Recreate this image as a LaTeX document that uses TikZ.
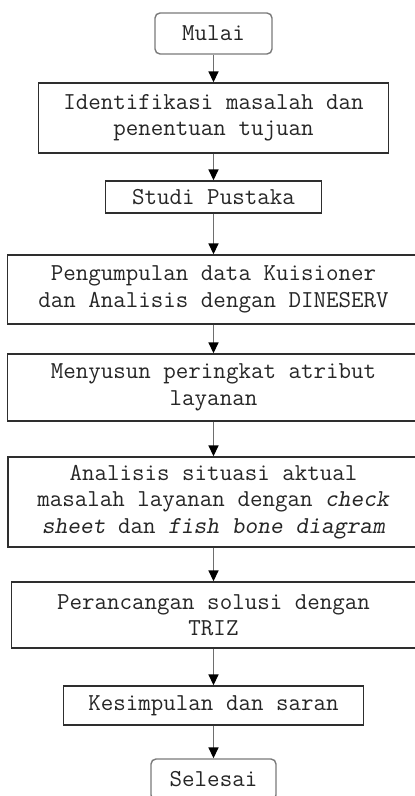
\documentclass[tikz,border=0pt]{standalone}
\usepackage{fontspec}
\usetikzlibrary{arrows.meta}
\definecolor{txt}{HTML}{262626}
\definecolor{edge}{HTML}{2E2E2E}
\definecolor{termedge}{HTML}{7A7A7A}
\definecolor{lineg}{HTML}{6E6E6E}
\begin{document}
\begin{tikzpicture}[x=1pt,y=-1pt,
  stepbox/.style={draw=edge, line width=1.4pt, fill=white, text=txt, align=center,
    inner sep=0pt, font=\ttfamily\fontsize{24.3}{26.5}\selectfont},
  termbox/.style={stepbox, draw=termedge, rounded corners=5pt},
  flow/.style={draw=lineg, line width=1.6pt, -{Triangle[width=10pt,length=11pt,fill=black,color=black]}}
]
\useasboundingbox (0,0) rectangle (415,796);
\clip (0,0) rectangle (415,796);
\node[termbox, minimum width=117, minimum height=41] (n1) at (213.5,33.5) {Mulai};
\node[stepbox, minimum width=350, minimum height=70] (n2) at (213.5,118) {Identifikasi masalah dan\\penentuan tujuan};
\node[stepbox, minimum width=216, minimum height=32] (n3) at (213.5,197) {Studi Pustaka};
\node[stepbox, minimum width=412, minimum height=69] (n4) at (213.5,289.5) {Pengumpulan data Kuisioner\\dan Analisis dengan DINESERV};
\node[stepbox, minimum width=412, minimum height=67] (n5) at (213.5,387.5) {Menyusun peringkat atribut\\layanan};
\node[stepbox, minimum width=411, minimum height=90] (n6) at (213.5,502) {Analisis situasi aktual\\masalah layanan dengan \textsl{check}\\\textsl{sheet} dan \textsl{fish bone diagram}};
\node[stepbox, minimum width=404, minimum height=66] (n7) at (213.5,615) {Perancangan solusi dengan\\TRIZ};
\node[stepbox, minimum width=300, minimum height=39] (n8) at (213.5,705.5) {Kesimpulan dan saran};
\node[termbox, minimum width=125, minimum height=41] (n9) at (213.5,779.5) {Selesai};
\draw[flow] (n1.south) -- (n2.north);
\draw[flow] (n2.south) -- (n3.north);
\draw[flow] (n3.south) -- (n4.north);
\draw[flow] (n4.south) -- (n5.north);
\draw[flow] (n5.south) -- (n6.north);
\draw[flow] (n6.south) -- (n7.north);
\draw[flow] (n7.south) -- (n8.north);
\draw[flow] (n8.south) -- (n9.north);
\end{tikzpicture}
\end{document}
